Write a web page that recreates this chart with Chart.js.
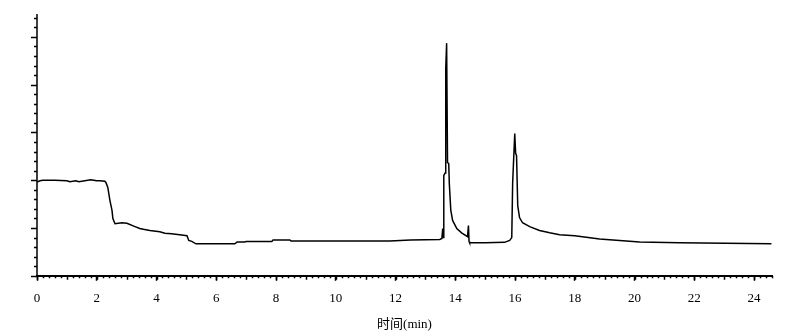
<!DOCTYPE html>
<html>
<head>
<meta charset="utf-8">
<script src="https://cdn.jsdelivr.net/npm/chart.js@4"></script>
<style>
    html, body { margin: 0; padding: 0; background: #fff; }
    #wrap { width: 800px; height: 336px; }
</style>
</head>
<body>
<div id="wrap"><canvas id="chromChart"></canvas></div>
<script>
// retention time (min)
const times = [
    0.00, 0.10, 0.20, 0.60, 1.00, 1.10, 1.30, 1.40, 1.80, 1.90, 2.00, 2.10, 2.27,
    2.31, 2.37, 2.44, 2.51, 2.54, 2.61, 2.84, 3.01, 3.28, 3.44, 3.60, 3.78, 4.11,
    4.28, 4.50, 4.78, 5.02, 5.08, 5.18, 5.32, 6.62, 6.70, 6.96, 7.00, 7.86, 7.90,
    8.46, 8.50, 10.00, 11.81, 12.50, 13.48, 13.55, 13.58, 13.59, 13.61, 13.62,
    13.66, 13.68, 13.71, 13.74, 13.78, 13.80, 13.85, 13.91, 14.05, 14.21, 14.41,
    14.44, 14.46, 14.48, 15.00, 15.65, 15.82, 15.89, 15.92, 15.99, 16.02, 16.05,
    16.09, 16.15, 16.25, 16.49, 16.82, 17.16, 17.49, 18.00, 18.83, 20.17, 21.51,
    24.58
];
// detector signal (arbitrary units)
const signal = [
    1.96, 1.99, 2.00, 2.00, 1.99, 1.97, 1.99, 1.97, 2.01, 2.00, 1.99, 1.99, 1.98,
    1.95, 1.85, 1.58, 1.37, 1.20, 1.09, 1.11, 1.10, 1.03, 0.99, 0.97, 0.95, 0.92,
    0.89, 0.88, 0.86, 0.84, 0.74, 0.72, 0.67, 0.67, 0.71, 0.71, 0.72, 0.72, 0.75,
    0.75, 0.73, 0.73, 0.73, 0.75, 0.76, 0.78, 0.99, 0.80, 0.80, 2.10,
    2.15, 4.33, 4.87, 2.37, 2.35, 1.93, 1.37, 1.16, 0.99, 0.90, 0.82,
    1.05, 0.72, 0.69, 0.69, 0.70, 0.74, 0.80, 1.95, 2.98, 2.56, 2.52,
    1.47, 1.22, 1.11, 1.03, 0.95, 0.90, 0.86, 0.84, 0.77, 0.71, 0.69,
    0.67
];
// labelled x ticks
const xTickLabels = [0, 2, 4, 6, 8, 10, 12, 14, 16, 18, 20, 22, 24];
const xMinorStep = 0.2;
const yMajorStep = 1;
const yMinorStep = 0.2;

const points = times.map((t, i) => ({ x: t, y: signal[i] }));

// small ticks drawn along the two axes, placed through the scales
const axisTicks = {
    id: 'axisTicks',
    afterDraw(chart) {
        const { ctx, chartArea, scales } = chart;
        const xs = scales.x, ys = scales.y;
        ctx.save();
        ctx.strokeStyle = '#000';
        ctx.lineWidth = 1.5;
        ctx.beginPath();
        // y axis line
        ctx.moveTo(chartArea.left, chartArea.top);
        ctx.lineTo(chartArea.left, chartArea.bottom);
        // x minor ticks
        for (let v = 0; v <= xs.max + 1e-6; v += xMinorStep) {
            const px = Math.round(xs.getPixelForValue(v)) + 0.5;
            const len = Math.abs(v - Math.round(v)) < 1e-6 ? 4 : 2.5;
            ctx.moveTo(px, chartArea.bottom);
            ctx.lineTo(px, chartArea.bottom + len);
        }
        // y ticks
        for (let v = 0; v <= ys.max + 1e-6; v += yMinorStep) {
            const py = Math.round(ys.getPixelForValue(v)) + 0.5;
            const major = Math.abs(v / yMajorStep - Math.round(v / yMajorStep)) < 1e-6;
            ctx.moveTo(chartArea.left, py);
            ctx.lineTo(chartArea.left - (major ? 6 : 3), py);
        }
        ctx.stroke();
        ctx.restore();
    }
};

new Chart(document.getElementById('chromChart'), {
    type: 'line',
    data: {
        datasets: [{
            data: points,
            borderColor: '#000',
            borderWidth: 1.5,
            pointRadius: 0,
            tension: 0,
            fill: false
        }]
    },
    options: {
        responsive: true,
        maintainAspectRatio: false,
        animation: false,
        layout: { padding: { left: 37, top: 14, right: 28, bottom: 4 } },
        plugins: {
            legend: { display: false },
            tooltip: { enabled: false }
        },
        scales: {
            x: {
                type: 'linear',
                min: 0,
                max: 24.6,
                afterBuildTicks: (axis) => {
                    axis.ticks = xTickLabels.map(v => ({ value: v }));
                },
                ticks: {
                    color: '#000',
                    padding: 10,
                    maxRotation: 0,
                    font: { family: 'Liberation Serif', size: 13 }
                },
                grid: {
                    drawOnChartArea: false,
                    tickLength: 5,
                    tickColor: '#000',
                    tickWidth: 1.5
                },
                border: { display: true, color: '#000', width: 2 },
                title: {
                    display: true,
                    text: '时间(min)',
                    color: '#000',
                    padding: { top: 0, bottom: 0 },
                    font: { family: "'Liberation Serif', 'Noto Sans CJK SC'", size: 13 }
                }
            },
            y: {
                display: false,
                min: 0,
                max: 5.48
            }
        }
    },
    plugins: [axisTicks]
});
</script>
</body>
</html>
